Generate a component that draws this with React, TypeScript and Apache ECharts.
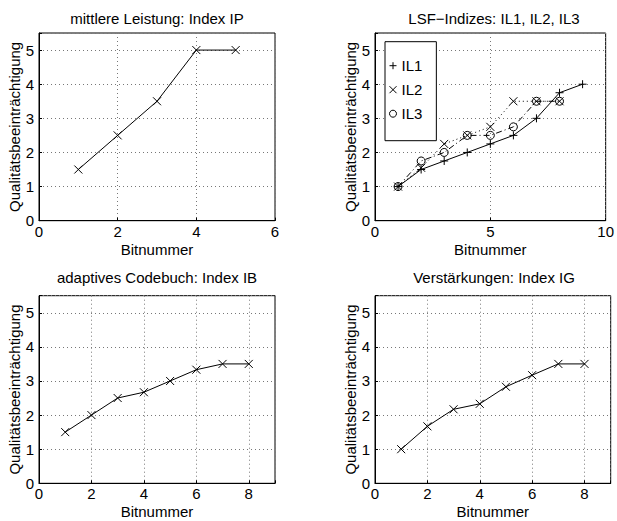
import React, { useEffect, useRef } from 'react';
import * as echarts from 'echarts';

// Panel 1: mittlere Leistung
const ipX = [1, 2, 3, 4, 5];
const ipY = [1.5, 2.5, 3.5, 5, 5];
// Panel 2: LSF indices
const il1X = [1, 2, 3, 4, 5, 6, 7, 8, 9];
const il1Y = [1, 1.5, 1.75, 2, 2.25, 2.5, 3, 3.75, 4];
const il2X = [1, 2, 3, 4, 5, 6, 7, 8];
const il2Y = [1, 1.55, 2.25, 2.5, 2.75, 3.5, 3.5, 3.5];
const il3X = [1, 2, 3, 4, 5, 6, 7, 8];
const il3Y = [1, 1.75, 2, 2.5, 2.5, 2.75, 3.5, 3.5];
// Panel 3: adaptives Codebuch
const ibX = [1, 2, 3, 4, 5, 6, 7, 8];
const ibY = [1.5, 2, 2.5, 2.67, 3, 3.33, 3.5, 3.5];
// Panel 4: Verstärkungen
const igX = [1, 2, 3, 4, 5, 6, 7, 8];
const igY = [1, 1.67, 2.17, 2.33, 2.83, 3.17, 3.5, 3.5];

const titles = [
  'mittlere Leistung: Index IP',
  'LSF\u2212Indizes: IL1, IL2, IL3',
  'adaptives Codebuch: Index IB',
  'Verstärkungen: Index IG',
];
const xMax = [6, 10, 9, 9];
const xInterval = [2, 5, 2, 2];
const yMax = 5.5;
const yName = 'Qualitätsbeeinträchtigung';
const xName = 'Bitnummer';
const legendNames = ['IL1', 'IL2', 'IL3'];

const zip = (xs: number[], ys: number[]) => xs.map((x, i) => [x, ys[i]]);

const FONT = 'Liberation Sans, Arial, Helvetica, sans-serif';
const CROSS = 'path://M0,0L10,10M10,0L0,10';
const PLUS = 'path://M5,0L5,10M0,5L10,5';

export default function App() {
  const ref = useRef<HTMLDivElement>(null);
  useEffect(() => {
    if (!ref.current) return;
    const chart = echarts.init(ref.current, undefined, { renderer: 'svg' });
    const grids = [
      { left: 39, top: 33, width: 236, height: 187.7 },
      { left: 375, top: 33, width: 235.7, height: 187.7 },
      { left: 39, top: 295.7, width: 236, height: 187.6 },
      { left: 375, top: 295.7, width: 235.7, height: 187.6 },
    ].map((g) => ({ ...g, show: true, borderColor: '#000', borderWidth: 1, containLabel: false }));

    const titleLeft = [157, 494, 157, 494];
    const titleTop = [11, 11, 269.5, 269.5];

    const xAxis = grids.map((_, i) => ({
      type: 'value',
      gridIndex: i,
      min: 0,
      max: xMax[i],
      interval: xInterval[i],
      name: xName,
      nameLocation: 'middle',
      nameGap: 21,
      nameTextStyle: { color: '#000', fontSize: 15, fontFamily: FONT },
      axisLine: { show: true, lineStyle: { color: '#000', width: 1 } },
      axisTick: { show: true, inside: true, length: 3, lineStyle: { color: '#000' } },
      axisLabel: {
        color: '#000',
        fontSize: 15,
        fontFamily: FONT,
        margin: 3,
        formatter: (v: number) => (v % xInterval[i] === 0 ? String(v) : ''),
      },
      splitLine: { show: true, lineStyle: { color: '#777', type: [1, 3], width: 1 } },
    }));

    const yAxis = grids.map((_, i) => ({
      type: 'value',
      gridIndex: i,
      min: 0,
      max: yMax,
      interval: 1,
      name: yName,
      nameLocation: 'middle',
      nameGap: 15,
      nameTextStyle: { color: '#000', fontSize: 15, fontFamily: FONT },
      axisLine: { show: true, lineStyle: { color: '#000', width: 1 } },
      axisTick: { show: true, inside: true, length: 3, lineStyle: { color: '#000' } },
      axisLabel: {
        color: '#000',
        fontSize: 15,
        fontFamily: FONT,
        margin: 5,
        formatter: (v: number) => (Number.isInteger(v) ? String(v) : ''),
      },
      splitLine: { show: true, lineStyle: { color: '#777', type: [1, 3], width: 1 } },
    }));

    const mk = (
      name: string,
      idx: number,
      data: number[][],
      symbol: string,
      size: number,
      lineType: any
    ) => ({
      type: 'line',
      name,
      xAxisIndex: idx,
      yAxisIndex: idx,
      data,
      symbol,
      symbolSize: size,
      showAllSymbol: true,
      lineStyle: { color: '#000', width: 1, type: lineType },
      itemStyle: { color: 'none', borderColor: '#000', borderWidth: 1 },
      emphasis: { disabled: true },
      silent: true,
      z: 3,
    });

    const option: any = {
      animation: false,
      backgroundColor: '#fff',
      title: titles.map((t, i) => ({
        text: t,
        left: titleLeft[i],
        top: titleTop[i],
        textAlign: 'center',
        padding: 0,
        textStyle: { color: '#000', fontSize: 15, fontWeight: 'normal', fontFamily: FONT },
      })),
      grid: grids,
      xAxis,
      yAxis,
      legend: {
        data: [
          { name: legendNames[0], icon: PLUS },
          { name: legendNames[1], icon: CROSS },
          { name: legendNames[2], icon: 'circle' },
        ],
        left: 385,
        top: 41.7,
        orient: 'vertical',
        itemWidth: 7,
        itemHeight: 7,
        itemGap: 9,
        padding: [16.5, 14, 19.5, 2],
        borderColor: '#000',
        borderWidth: 1,
        backgroundColor: '#fff',
        selectedMode: false,
        itemStyle: { color: 'none', borderColor: '#000', borderWidth: 1 },
        textStyle: { color: '#000', fontSize: 15, fontFamily: FONT },
      },
      series: [
        mk('IP', 0, zip(ipX, ipY), CROSS, 8, 'solid'),
        mk(legendNames[0], 1, zip(il1X, il1Y), PLUS, 8, 'solid'),
        mk(legendNames[1], 1, zip(il2X, il2Y), CROSS, 8, [1, 3]),
        mk(legendNames[2], 1, zip(il3X, il3Y), 'circle', 8, [6, 3, 1, 3]),
        mk('IB', 2, zip(ibX, ibY), CROSS, 8, 'solid'),
        mk('IG', 3, zip(igX, igY), CROSS, 8, 'solid'),
      ],
    };
    chart.setOption(option);
    return () => chart.dispose();
  }, []);
  return (
    <div
      ref={ref}
      style={{ position: 'fixed', left: 0, top: 0, width: 617, height: 521, background: '#fff' }}
    />
  );
}
